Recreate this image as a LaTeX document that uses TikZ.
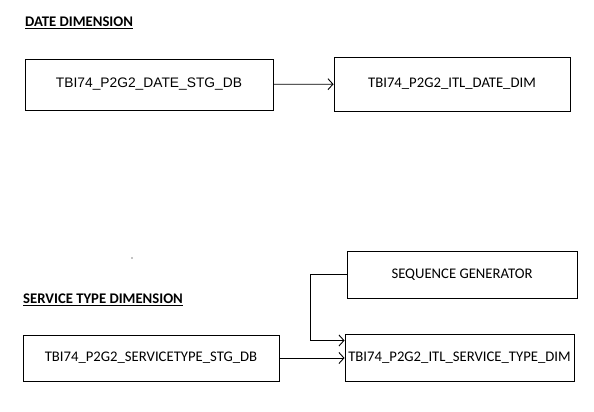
\documentclass[tikz,border=0pt]{standalone}
\usepackage{fontspec}
\setmainfont{Carlito}
\newfontfamily\arialfont{Liberation Sans}
\usepackage{tikz}
\usetikzlibrary{positioning}
\usetikzlibrary{arrows.meta}

\begin{document}
\begin{tikzpicture}[x=1pt, y=-1pt,
    tabla/.style={draw, line width=0.9pt, inner sep=0pt, font=\fontsize{14.7}{17}\selectfont},
    titulo/.style={anchor=west, inner sep=0pt, font=\fontsize{14.7}{17}\selectfont\bfseries},
    flecha/.style={line width=0.9pt, -{Straight Barb[length=5pt, width=11pt]}}]
            \useasboundingbox (0,0) rectangle (594,412);
            % Titulos
            \node[titulo] (tdate) at (25,23) {\underline{DATE DIMENSION}};
            \node[titulo] (tserv) at (23,300) {\underline{SERVICE TYPE DIMENSION}};

            % Tablas
            \node[tabla, minimum width=248pt, minimum height=51pt, font=\fontsize{13.8}{16}\selectfont\arialfont] (datestg) at (149,84.5) {TBI74\_P2G2\_DATE\_STG\_DB};
            \node[tabla, minimum width=236pt, minimum height=54pt] (datedim) at (452,84) {TBI74\_P2G2\_ITL\_DATE\_DIM};
            \node[tabla, minimum width=256pt, minimum height=46pt] (servstg) at (151,358) {TBI74\_P2G2\_SERVICETYPE\_STG\_DB};
            \node[tabla, minimum width=230pt, minimum height=47pt] (seqgen) at (462,274.5) {SEQUENCE GENERATOR};
            \node[tabla, minimum width=229pt, minimum height=47pt] (servdim) at (459.5,357.5) {TBI74\_P2G2\_ITL\_SERVICE\_TYPE\_DIM};

            \fill (132,258) circle (0.6pt);

            % Flechas
            \draw[flecha] (datestg) -- (datedim);
            \draw[flecha] (servstg.east) -- (servstg.east -| servdim.west);
            \draw[flecha] (seqgen.west) -- ++(-36,0) |- ([yshift=17pt]servdim.west);
          \end{tikzpicture}
\end{document}
